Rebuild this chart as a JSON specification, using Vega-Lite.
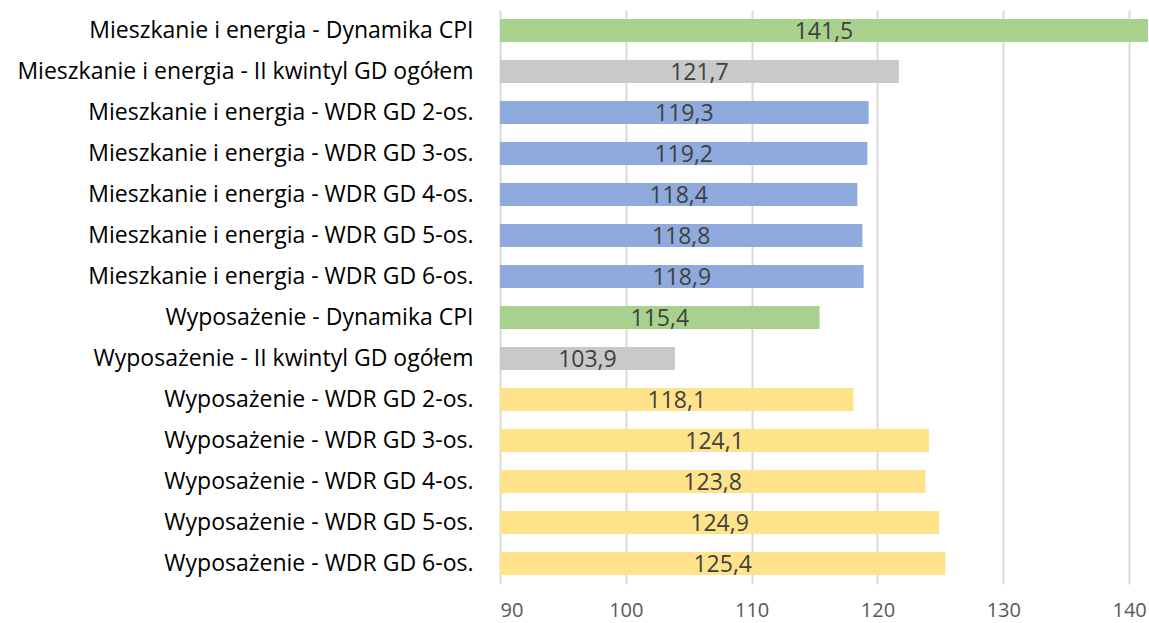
{
  "$schema": "https://vega.github.io/schema/vega-lite/v6.json",
  "width": 648,
  "height": 574,
  "autosize": {"type": "none"},
  "padding": {"left": 500, "top": 10, "right": 1, "bottom": 39},
  "background": "white",
  "config": {"view": {"stroke": null}, "font": "Open Sans"},
  "data": {
    "values": [
      {"label": "Mieszkanie i energia - Dynamika CPI", "group": "cpi", "value": 141.5},
      {"label": "Mieszkanie i energia - II kwintyl GD ogółem", "group": "kwintyl", "value": 121.7},
      {"label": "Mieszkanie i energia - WDR GD 2-os.", "group": "mieszkanie", "value": 119.3},
      {"label": "Mieszkanie i energia - WDR GD 3-os.", "group": "mieszkanie", "value": 119.2},
      {"label": "Mieszkanie i energia - WDR GD 4-os.", "group": "mieszkanie", "value": 118.4},
      {"label": "Mieszkanie i energia - WDR GD 5-os.", "group": "mieszkanie", "value": 118.8},
      {"label": "Mieszkanie i energia - WDR GD 6-os.", "group": "mieszkanie", "value": 118.9},
      {"label": "Wyposażenie - Dynamika CPI", "group": "cpi", "value": 115.4},
      {"label": "Wyposażenie - II kwintyl GD ogółem", "group": "kwintyl", "value": 103.9},
      {"label": "Wyposażenie - WDR GD 2-os.", "group": "wyposazenie", "value": 118.1},
      {"label": "Wyposażenie - WDR GD 3-os.", "group": "wyposazenie", "value": 124.1},
      {"label": "Wyposażenie - WDR GD 4-os.", "group": "wyposazenie", "value": 123.8},
      {"label": "Wyposażenie - WDR GD 5-os.", "group": "wyposazenie", "value": 124.9},
      {"label": "Wyposażenie - WDR GD 6-os.", "group": "wyposazenie", "value": 125.4}
    ]
  },
  "transform": [
    {"calculate": "(datum.value + 90) / 2", "as": "mid"},
    {"calculate": "replace(format(datum.value, '.1f'), '.', ',')", "as": "txt"}
  ],
  "encoding": {
    "y": {
      "field": "label",
      "type": "nominal",
      "sort": null,
      "scale": {"paddingInner": 0.44, "paddingOuter": 0.22},
      "axis": {
        "title": null,
        "domain": false,
        "ticks": false,
        "labelPadding": 27,
        "labelFontSize": 23,
        "labelColor": "#000000",
        "labelLimit": 600,
        "labelFont": "Open Sans"
      }
    }
  },
  "layer": [
    {
      "mark": {"type": "bar"},
      "encoding": {
        "x": {
          "field": "value",
          "type": "quantitative",
          "scale": {"domain": [90, 141.5], "nice": false, "zero": false},
          "axis": {
            "title": null,
            "values": [90, 100, 110, 120, 130, 140],
            "domain": false,
            "ticks": false,
            "grid": true,
            "gridColor": "#D9D9D9",
            "gridWidth": 2,
            "labelFontSize": 20,
            "labelColor": "#595959",
            "labelPadding": 16,
            "labelFont": "Open Sans"
          }
        },
        "x2": {"datum": 90},
        "color": {
          "field": "group",
          "type": "nominal",
          "legend": null,
          "scale": {
            "domain": ["cpi", "kwintyl", "mieszkanie", "wyposazenie"],
            "range": ["#A9D18E", "#C9C9C9", "#8FAADC", "#FFE38A"]
          }
        }
      }
    },
    {
      "mark": {"type": "text", "fontSize": 23, "color": "#404040", "align": "center", "baseline": "middle", "font": "Open Sans", "dy": 1},
      "encoding": {
        "x": {"field": "mid", "type": "quantitative"},
        "text": {"field": "txt"}
      }
    }
  ]
}
